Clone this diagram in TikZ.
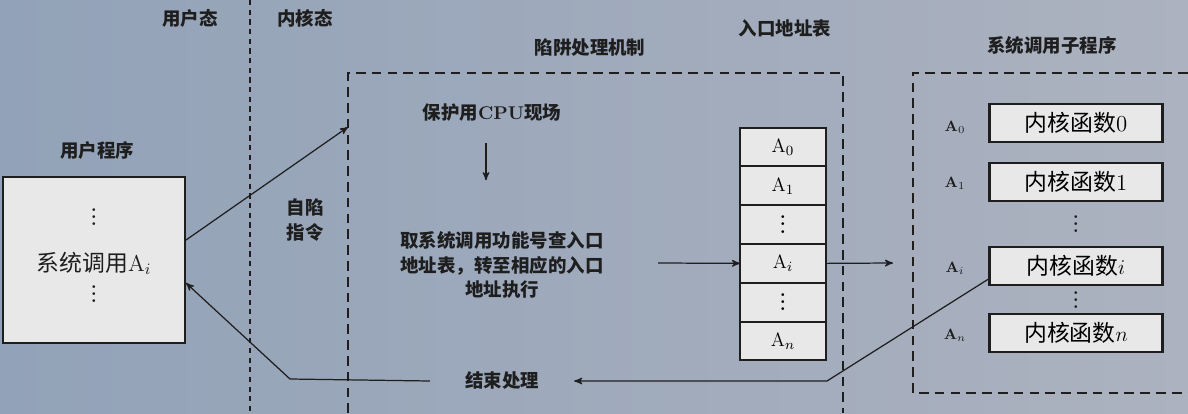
\documentclass[tikz,border=0pt]{standalone}
\usepackage{amsmath}
\usepackage{fontspec}
\newfontfamily\cjk{Noto Sans CJK SC}
\usepackage{tikz}
\usetikzlibrary{calc,positioning,arrows}

\definecolor{bgleft}{RGB}{146,162,184}
\definecolor{bgright}{RGB}{172,178,191}
\definecolor{boxgray}{RGB}{232,232,232}
\definecolor{ink}{RGB}{30,30,30}
\newcommand{\vdotz}{\vbox{\baselineskip=4pt\lineskiplimit=0pt\hbox{.}\hbox{.}\hbox{.}}}

\begin{document}
\begin{tikzpicture}[x=0.02cm,y=-0.02cm,>=stealth',node distance=0pt,
    hdr/.style={font=\cjk\bfseries\fontsize{10.5}{12}\selectfont,text=ink},
    txt/.style={font=\cjk\bfseries\fontsize{10.5}{14}\selectfont,text=ink,align=center},
    cell/.style={draw=ink,line width=1.2pt,fill=boxgray,minimum width=1.72cm,
                 minimum height=0.776cm,inner sep=0pt,outer sep=0pt,font=\fontsize{11}{12}\selectfont},
    funcbox/.style={draw=ink,line width=1.2pt,fill=boxgray,minimum width=3.46cm,
                 minimum height=0.76cm,inner sep=0pt,font=\fontsize{13}{14}\selectfont},
    addr/.style={font=\bfseries\fontsize{8.5}{9}\selectfont,text=ink},
    dots/.style={inner sep=0pt,font=\bfseries\fontsize{11}{12}\selectfont,text=ink},
    dashbox/.style={draw=ink,line width=1.1pt,dash pattern=on 5.5pt off 3.5pt},
    conn/.style={->,draw=ink,line width=0.7pt}]
    \useasboundingbox (0,0) rectangle (1188,413);
    \fill[left color=bgleft,right color=bgright] (0,0) rectangle (1188,413);
    %
    \coordinate (sepTop) at (250,0);
    \coordinate (sepBot) at (250,413);
    \draw[ink,line width=0.9pt,dash pattern=on 3pt off 2.5pt] (sepTop) -- (sepBot);
    \node[hdr] (userstate) at (190,18) {用户态};
    \node[hdr] (kernstate) at (305,18) {内核态};
    %
    % user program
    \node[hdr] (userprog) at (97,150) {用户程序};
    \node[draw=ink,line width=1.2pt,fill=boxgray,minimum width=3.64cm,minimum height=3.32cm] (user) at (94,260) {};
    \node[dots] (udotsA) at (94,217) {\vdotz};
    \node[font=\fontsize{13}{14}\selectfont,text=ink] (ucall) at (94,263) {{\cjk 系统调用}A$_{i}$};
    \node[dots] (udotsB) at (94,294) {\vdotz};
    \node[txt] (trapins) at (305,220) {自陷\\指令};
    %
    % trap handling
    \coordinate (trapNW) at (348,73);
    \coordinate (trapSE) at (843,413);
    \draw[dashbox] (trapNW |- trapSE) -- (trapNW) -- (trapSE |- trapNW) -- (trapSE);
    \node[hdr] (traphdr) at (590,48) {陷阱处理机制};
    \node[txt] (save) at (492,113) {保护用{\rmfamily\bfseries CPU}现场};
    \node[txt] (look) at (502,265) {取系统调用功能号查入口\\地址表，转至相应的入口\\地址执行};
    \node[txt,inner xsep=0.7cm] (finish) at (502,381) {结束处理};
    %
    % entry table
    \node[hdr] (tablehdr) at (785,28) {入口地址表};
    \node[cell] (a0) at (783,147) {A$_0$};
    \node[cell,below=of a0] (a1) {A$_1$};
    \node[cell,below=of a1] (adotsA) {\bfseries\vdotz};
    \node[cell,below=of adotsA] (ai) {A$_i$};
    \node[cell,below=of ai] (adotsB) {\bfseries\vdotz};
    \node[cell,below=of adotsB] (an) {A$_n$};
    %
    % subroutines
    \coordinate (subNW) at (913,73);
    \coordinate (subSE) at (1188,393);
    \draw[dashbox] (subSE |- subNW) -- (subNW) -- (subNW |- subSE) -- (subSE);
    \node[hdr] (subhdr) at (1052,45) {系统调用子程序};
    \node[funcbox] (f0) at (1076,123) {{\cjk 内核函数}0};
    \node[funcbox] (f1) at (1076,182) {{\cjk 内核函数}1};
    \node[dots] (fdotsA) at (1076,224) {\vdotz};
    \node[funcbox] (fi) at (1076,266) {{\cjk 内核函数}$i$};
    \node[dots] (fdotsB) at (1076,300) {\vdotz};
    \node[funcbox] (fn) at (1076,333) {{\cjk 内核函数}$n$};
    \node[addr] (l0) at (955,127) {A$_0$};
    \node[addr] (l1) at (955,183) {A$_1$};
    \node[addr] (li) at (955,268) {A$_i$};
    \node[addr] (ln) at (955,335) {A$_n$};
    %
    % connectors
    \coordinate (trapIn) at (trapNW |- 0,127);
    \coordinate (lookOut) at (658,263);
    \coordinate (subIn) at (893,263);
    \coordinate (retBend) at (827,381);
    \coordinate (userBend) at (290,379);
    \draw[conn] ([yshift=0.4cm]user.east) -- (trapIn);
    \draw[conn,shorten <=0.3cm,shorten >=0.9cm] ([xshift=-0.12cm]save.south) -- ([xshift=-0.12cm]save.south |- look.north);
    \draw[conn] (lookOut) -- (ai.west);
    \draw[conn] (ai.east) -- (subIn);
    \draw[conn] ([yshift=0.14cm]fi.south west) -- (retBend) -- (finish.east);
    \draw[conn] (finish.west) -- (userBend) -- ([yshift=-0.46cm]user.east);
\end{tikzpicture}
\end{document}
